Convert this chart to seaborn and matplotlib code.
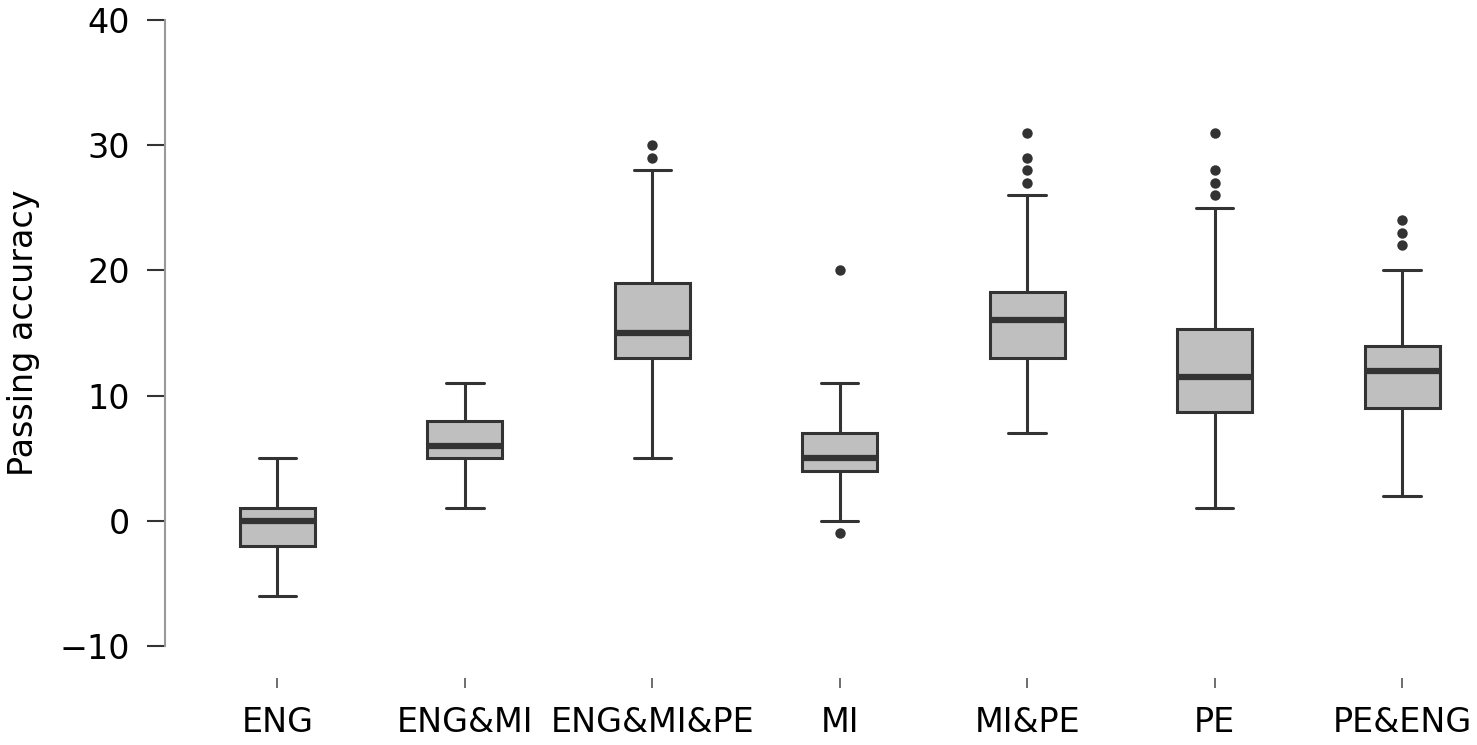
import numpy as np
import pandas as pd
import matplotlib
matplotlib.use("Agg")
import matplotlib.pyplot as plt
import seaborn as sns

# summary values
groups = ["ENG", "ENG&MI", "ENG&MI&PE", "MI", "MI&PE", "PE", "PE&ENG"]
whisker_low = [-6, 1, 5, 0, 7, 1, 2]
q1 = [-2, 5, 13, 4, 13, 8.7, 9]
median = [0, 6, 15, 5, 16, 11.5, 12]
q3 = [1, 8, 19, 7, 18.3, 15.3, 14]
whisker_high = [5, 11, 28, 11, 26, 25, 20]
outliers = {
    "ENG&MI&PE": [29, 30],
    "MI": [20, -1],
    "MI&PE": [27, 28, 29, 31],
    "PE": [26, 27, 28, 31],
    "PE&ENG": [22, 23, 24],
}

# five-number values per group -> quartiles come out exactly
rows = []
for i, g in enumerate(groups):
    for v in (whisker_low[i], q1[i], median[i], q3[i], whisker_high[i]):
        rows.append((g, v))
box_df = pd.DataFrame(rows, columns=["group", "value"])
out_df = pd.DataFrame([(g, v) for g, vals in outliers.items() for v in vals],
                      columns=["group", "value"])

sns.set_style("ticks")
plt.rcParams["font.family"] = ["DejaVu Sans"]

fig = plt.figure(figsize=(14.77, 7.45), dpi=100)
ax = fig.add_axes([165 / 1477, 99 / 745, 1312 / 1477, 626 / 745])

line_col = "#333333"
sns.boxplot(data=box_df, x="group", y="value", order=groups, ax=ax,
            color="#bfbfbf", saturation=1, linecolor=line_col, linewidth=2.2,
            width=0.4, whis=np.inf, showfliers=False,
            medianprops=dict(linewidth=4.5, color=line_col))
sns.stripplot(data=out_df, x="group", y="value", order=groups, ax=ax,
              jitter=False, color=line_col, size=7.5, linewidth=0)

ax.set_xlim(-0.6, 6.4)
ax.set_ylim(-10, 40)
ax.set_yticks([-10, 0, 10, 20, 30, 40])
ax.set_xlabel("")
ax.set_ylabel("Passing accuracy", fontsize=24, color="black")
ax.yaxis.set_label_coords(-0.095, 0.5)

for side in ["top", "right"]:
    ax.spines[side].set_visible(False)
ax.spines["left"].set_color("#999999")
ax.spines["left"].set_linewidth(1.5)
ax.spines["bottom"].set_position(("outward", 23))
ax.spines["bottom"].set_color("none")

ax.tick_params(axis="y", labelsize=24, length=13, width=1.5, color=line_col,
               labelcolor="black", pad=12)
ax.tick_params(axis="x", labelsize=24, length=7, width=1.2, color="#555555",
               labelcolor="black", pad=13)

fig.savefig("out.png", dpi=100, facecolor="white")
